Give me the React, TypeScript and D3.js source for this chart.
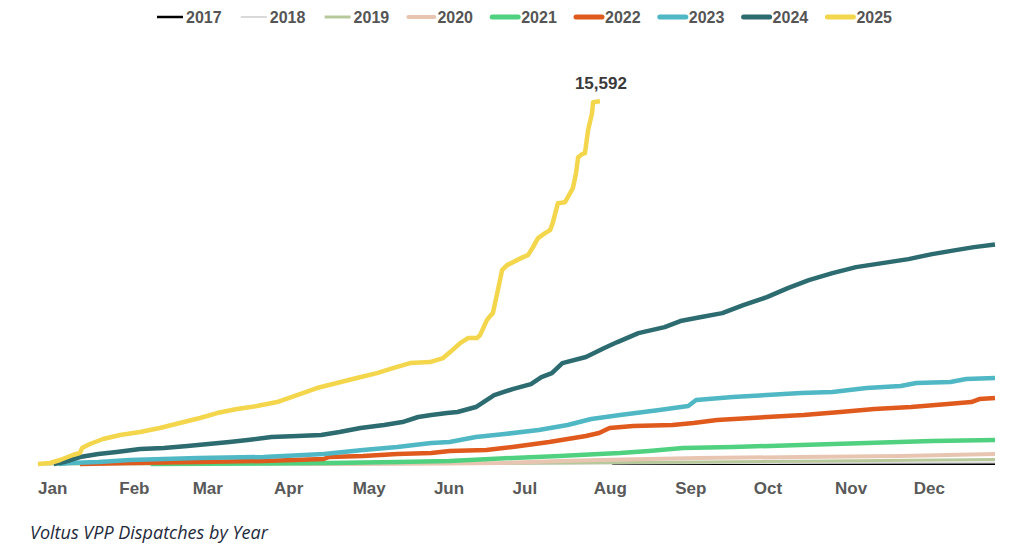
import React, { useEffect, useRef } from 'react';
import * as d3 from 'd3';

// cumulative dispatches, [day of year, count]
const data2017: [number, number][] = [[219, 0], [365, 0]];
const data2018: [number, number][] = [[0, 0], [170, 0], [215, 20], [260, 40], [365, 60]];
const data2019: [number, number][] = [[0, 0], [120, 0], [150, 20], [200, 45], [240, 80], [300, 130], [365, 190]];
const data2020: [number, number][] = [
  [100, 0], [157, 21], [176, 43], [199, 129], [214, 172], [252, 258], [291, 301], [329, 344], [365, 430],
];
const data2021: [number, number][] = [
  [43, 0], [86, 21], [111, 43], [137, 86], [157, 129], [181, 258], [199, 344], [214, 430], [222, 472],
  [233, 558], [246, 687], [265, 730], [291, 816], [316, 902], [341, 988], [365, 1031],
];
const data2022: [number, number][] = [
  [16, 0], [35, 43], [61, 86], [86, 129], [109, 215], [111, 301], [124, 344], [137, 430], [150, 472],
  [157, 558], [171, 601], [181, 730], [195, 945], [209, 1203], [214, 1331], [218, 1546], [227, 1632],
  [242, 1675], [250, 1761], [259, 1890], [278, 2019], [292, 2105], [306, 2233], [319, 2362], [333, 2448],
  [347, 2577], [356, 2663], [359, 2792], [365, 2835],
];
const data2023: [number, number][] = [
  [8, 0], [12, 43], [23, 86], [35, 172], [61, 258], [86, 301], [109, 430], [124, 601], [137, 730],
  [150, 902], [157, 945], [167, 1160], [178, 1289], [191, 1460], [202, 1675], [211, 1933], [222, 2105],
  [237, 2319], [248, 2491], [251, 2749], [265, 2878], [278, 2964], [291, 3049], [303, 3092], [316, 3264],
  [329, 3350], [335, 3479], [348, 3522], [354, 3651], [365, 3694],
];
const data2024: [number, number][] = [
  [6, 0], [10, 86], [16, 301], [23, 430], [30, 515], [39, 644], [48, 687], [57, 773], [65, 859],
  [73, 945], [80, 1031], [89, 1160], [99, 1203], [108, 1246], [115, 1374], [123, 1546], [132, 1675],
  [139, 1804], [145, 2019], [150, 2105], [156, 2190], [160, 2233], [167, 2448], [174, 2964], [181, 3221],
  [188, 3436], [192, 3737], [196, 3908], [200, 4338], [209, 4596], [216, 4982], [221, 5240], [229, 5626],
  [239, 5884], [245, 6142], [253, 6314], [261, 6485], [269, 6829], [278, 7173], [286, 7559], [294, 7903],
  [303, 8203], [312, 8461], [322, 8633], [332, 8805], [341, 9020], [350, 9191], [357, 9320], [365, 9430],
];
const data2025: [number, number][] = [
  [0, 0], [4.6, 43], [8.4, 172], [13.3, 387], [16, 473], [16.8, 687], [19.8, 859], [24.8, 1074],
  [31.3, 1246], [38.9, 1374], [46.5, 1546], [54.1, 1761], [61.8, 1976], [68.3, 2190], [75.9, 2362],
  [83.5, 2491], [91.2, 2663], [98.8, 2964], [106.4, 3264], [114, 3479], [121.6, 3694], [129.3, 3908],
  [135.4, 4123], [141.9, 4338], [149.5, 4381], [154.5, 4553], [157.2, 4810], [161, 5197], [164, 5412],
  [167.4, 5412], [168.6, 5541], [171.2, 6185], [172.4, 6357], [173.5, 6485], [175.4, 7473], [177, 8332],
  [178.9, 8547], [182.7, 8762], [185, 8891], [186.9, 8977], [188.8, 9320], [190.7, 9707], [193.4, 9922],
  [195.3, 10050], [196.4, 10394], [198.3, 11210], [201, 11253], [202.1, 11468], [204, 11854],
  [205.2, 12498], [206, 13186], [207.5, 13315], [208.6, 13357], [209.8, 14345], [211.3, 15075],
  [211.7, 15548], [214.3, 15592],
];

const years = ['2017', '2018', '2019', '2020', '2021', '2022', '2023', '2024', '2025'];
const seriesData = [data2017, data2018, data2019, data2020, data2021, data2022, data2023, data2024, data2025];
const colors = ['#000000', '#d9d9d9', '#b7c99b', '#e8c5b1', '#50d17f', '#e05a1d', '#4fb8c4', '#2c6b70', '#f3d64c'];
const lineWidths = [2, 2, 3, 4, 4.5, 4.5, 4.5, 4.5, 4.5];
const legendWidths = [2.5, 2, 3, 4, 5, 5, 5, 5, 5];

const monthLabels = ['Jan', 'Feb', 'Mar', 'Apr', 'May', 'Jun', 'Jul', 'Aug', 'Sep', 'Oct', 'Nov', 'Dec'];
const monthStarts = [0, 31, 59, 90, 120, 151, 181, 212, 243, 273, 304, 334];

const App: React.FC = () => {
  const svgRef = useRef<SVGSVGElement>(null);

  useEffect(() => {
    if (!svgRef.current) return;
    const svg = d3.select(svgRef.current);
    svg.selectAll('*').remove();

    const x = d3.scaleLinear().domain([0, 365]).range([38, 995]);
    const y = d3.scaleLinear().domain([0, 15600]).range([464, 101]);

    const line = d3.line<[number, number]>()
      .x(d => x(d[0]))
      .y(d => y(d[1]));

    // series, older years underneath
    seriesData.forEach((s, i) => {
      svg.append('path')
        .attr('d', line(s) ?? '')
        .attr('fill', 'none')
        .attr('stroke', colors[i])
        .attr('stroke-width', lineWidths[i])
        .attr('stroke-linejoin', 'round');
    });

    // label at end of 2025
    const last = data2025[data2025.length - 1];
    svg.append('text')
      .attr('x', x(last[0]) + 1)
      .attr('y', 89)
      .attr('text-anchor', 'middle')
      .style('font-family', '"Liberation Sans", Arial, sans-serif')
      .style('font-size', '17px')
      .style('font-weight', 'bold')
      .style('fill', '#3a3a3a')
      .text(d3.format(',')(last[1]));

    // month labels, left aligned on month start
    svg.append('g')
      .selectAll('text')
      .data(monthLabels)
      .join('text')
      .attr('x', (_, i) => x(monthStarts[i]))
      .attr('y', 494)
      .style('font-family', '"Liberation Sans", Arial, sans-serif')
      .style('font-size', '17px')
      .style('font-weight', 'bold')
      .style('fill', '#595959')
      .text(d => d);

    // legend
    const legend = svg.append('g');
    years.forEach((yr, i) => {
      const lx = 156 + i * 83.8;
      legend.append('line')
        .attr('x1', lx + 1)
        .attr('x2', lx + 27)
        .attr('y1', 17)
        .attr('y2', 17)
        .attr('stroke', colors[i])
        .attr('stroke-width', legendWidths[i])
        .attr('stroke-linecap', i > 2 ? 'round' : 'butt');
      legend.append('text')
        .attr('x', lx + 30)
        .attr('y', 23)
        .style('font-family', '"Liberation Sans", Arial, sans-serif')
        .style('font-size', '16px')
        .style('font-weight', 'bold')
        .style('fill', '#555555')
        .text(yr);
    });

    svg.append('text')
      .attr('x', 30)
      .attr('y', 539)
      .style('font-family', '"Open Sans", sans-serif')
      .style('font-size', '18px')
      .style('font-style', 'italic')
      .style('fill', '#1e2a3b')
      .text('Voltus VPP Dispatches by Year');
  }, []);

  return (
    <svg
      ref={svgRef}
      width={1026}
      height={549}
      style={{ position: 'absolute', left: 0, top: 0, background: '#fff' }}
    />
  );
};

export default App;
